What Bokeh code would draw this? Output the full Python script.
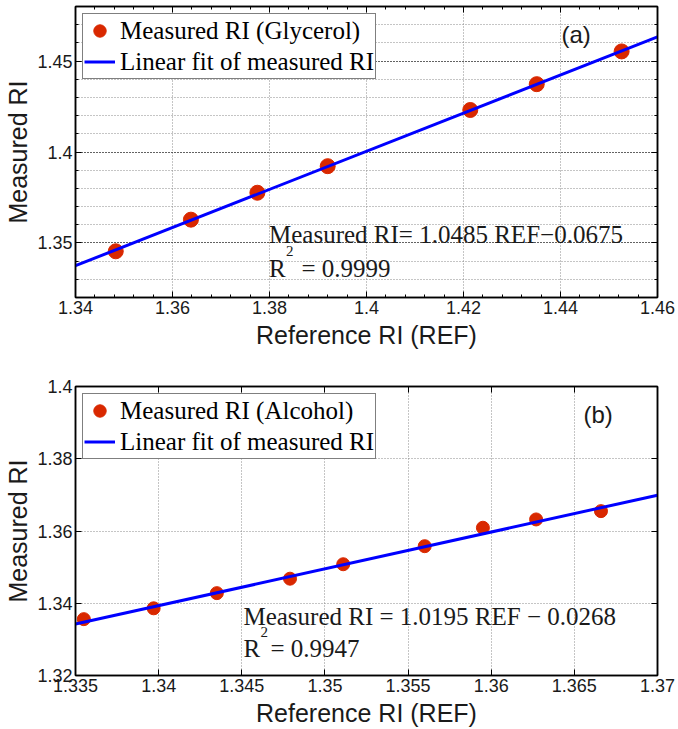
import numpy as np
from bokeh.plotting import figure
from bokeh.models import (Legend, LegendItem, Label, LinearAxis, FixedTicker, Range1d, Grid)
from bokeh.layouts import column
from bokeh.embed import file_html
from bokeh.resources import INLINE

# ---------------- data: panel (a) glycerol ----------------
ref_glycerol = [1.3483, 1.3638, 1.3775, 1.3920, 1.4214, 1.4351, 1.4526]
meas_glycerol = [1.3454, 1.3628, 1.3776, 1.3922, 1.4231, 1.4373, 1.4553]
fit_a_slope = 1.0485
fit_a_intercept = -0.0675
fit_a_x = [1.34, 1.46]

# ---------------- data: panel (b) alcohol ----------------
ref_alcohol = [1.3355, 1.3397, 1.3435, 1.3479, 1.3511, 1.3560, 1.3595, 1.3627, 1.3666]
meas_alcohol = [1.3356, 1.3386, 1.3428, 1.3468, 1.3508, 1.3558, 1.3609, 1.3632, 1.3655]
fit_b_slope = 1.0195
fit_b_intercept = -0.0268
fit_b_x = [1.335, 1.37]

# ---------------- tick labels ----------------
a_xticks = [1.34, 1.36, 1.38, 1.40, 1.42, 1.44, 1.46]
a_xlabels = ["1.34", "1.36", "1.38", "1.4", "1.42", "1.44", "1.46"]
a_yticks = [1.35, 1.40, 1.45]
a_ylabels = ["1.35", "1.4", "1.45"]
b_xticks = [1.335, 1.34, 1.345, 1.35, 1.355, 1.36, 1.365, 1.37]
b_xlabels = ["1.335", "1.34", "1.345", "1.35", "1.355", "1.36", "1.365", "1.37"]
b_yticks = [1.32, 1.34, 1.36, 1.38, 1.40]
b_ylabels = ["1.32", "1.34", "1.36", "1.38", "1.4"]

legend_a = ["Measured RI (Glycerol)", "Linear fit of measured RI"]
legend_b = ["Measured RI (Alcohol)", "Linear fit of measured RI"]
eq_a = ["Measured RI= 1.0485 REF\u22120.0675", "R", "2", "= 0.9999"]
eq_b = ["Measured RI = 1.0195 REF \u2212 0.0268", "R", "2", "= 0.9947"]

RED = "#d92800"
BLUE = "#0000ff"
SANS = "Liberation Sans"
SERIF = "Liberation Serif"
TXT = "#1a1a1a"
GRAY = "#8a8a8a"
LBL_DY = 6  # label vertical correction (px)


def style_axis(ax, ticker, labels, show_labels=True):
    ax.ticker = ticker
    ax.major_tick_in = 6
    ax.major_tick_out = 0
    ax.minor_tick_in = 3
    ax.minor_tick_out = 0
    ax.axis_line_width = 1.5
    ax.axis_line_color = "black"
    ax.major_tick_line_color = "black"
    ax.minor_tick_line_color = "black"
    ax.major_tick_line_width = 1
    ax.minor_tick_line_width = 1
    if show_labels:
        ax.major_label_overrides = {t: l for t, l in zip(ticker.ticks, labels)}
        ax.major_label_text_font = SANS
        ax.major_label_text_font_size = "18px"
        ax.major_label_text_color = TXT
        ax.major_label_standoff = 3
        ax.axis_label_text_font = SANS
        ax.axis_label_text_font_size = "25px"
        ax.axis_label_text_font_style = "normal"
        ax.axis_label_text_color = TXT
    else:
        ax.major_label_text_font_size = "1px"
        ax.major_label_text_color = None
        ax.major_label_standoff = 0


def make_panel(height, top, bottom, xr, yr, xticks, xlabels, xminor, yticks, ylabels, yminor,
               xs, ys, fit_x, slope, intercept, msize, leg, eq, eqpos, tag, tagpos,
               y_major_color):
    p = figure(width=678, height=height, x_range=Range1d(*xr), y_range=Range1d(*yr),
               output_backend="svg", toolbar_location=None,
               min_border_left=75, min_border_right=21, min_border_top=top,
               min_border_bottom=bottom, x_axis_type=None, y_axis_type=None)
    p.outline_line_color = "black"
    p.outline_line_width = 1.5
    p.background_fill_color = "white"
    p.border_fill_color = "white"

    xt = FixedTicker(ticks=xticks, minor_ticks=xminor)
    yt = FixedTicker(ticks=yticks, minor_ticks=yminor)

    xb = LinearAxis(axis_label="Reference RI (REF)")
    style_axis(xb, xt, xlabels)
    xb.axis_label_standoff = 4
    yl = LinearAxis(axis_label="Measured RI")
    style_axis(yl, yt, ylabels)
    yl.axis_label_standoff = 2
    xa = LinearAxis()
    style_axis(xa, xt, None, show_labels=False)
    yr_ax = LinearAxis()
    style_axis(yr_ax, yt, None, show_labels=False)
    p.add_layout(xb, "below")
    p.add_layout(yl, "left")
    p.add_layout(xa, "above")
    p.add_layout(yr_ax, "right")

    gx = Grid(dimension=0, ticker=xt, grid_line_color=GRAY, grid_line_dash="1 2",
              grid_line_width=1)
    gy = Grid(dimension=1, ticker=yt, grid_line_color=y_major_color, grid_line_dash="1 2",
              grid_line_width=1)
    if yminor:
        gy.minor_grid_line_color = GRAY
        gy.minor_grid_line_dash = "1 2"
        gy.minor_grid_line_width = 1
    p.add_layout(gx)
    p.add_layout(gy)

    sc = p.scatter(xs, ys, size=msize, color=RED, line_color=RED)
    fit_y = [slope * x + intercept for x in fit_x]
    ln = p.line(fit_x, fit_y, line_color=BLUE, line_width=3)

    legend = Legend(items=[LegendItem(label=leg[0], renderers=[sc]),
                           LegendItem(label=leg[1], renderers=[ln])],
                    location="top_left", margin=7, padding=1, spacing=-1,
                    glyph_width=31, glyph_height=31, label_standoff=5,
                    label_text_font=SERIF, label_text_font_size="25px",
                    label_text_color="black",
                    border_line_color="black", border_line_width=1.5,
                    background_fill_color="white", background_fill_alpha=1)
    p.add_layout(legend)

    (x0, y1, y2, off2, off3) = eqpos
    common = dict(text_font=SERIF, text_color=TXT, text_baseline="alphabetic")
    p.add_layout(Label(x=x0, y=y1, y_offset=LBL_DY, text=eq[0], text_font_size="25px", **common))
    p.add_layout(Label(x=x0, y=y2, y_offset=LBL_DY, text=eq[1], text_font_size="25px", **common))
    p.add_layout(Label(x=x0, y=y2, x_offset=off2, y_offset=17 + LBL_DY, text=eq[2],
                       text_font_size="15px", **common))
    p.add_layout(Label(x=x0, y=y2, x_offset=off3, y_offset=LBL_DY, text=eq[3],
                       text_font_size="25px", **common))
    p.add_layout(Label(x=tagpos[0], y=tagpos[1], y_offset=LBL_DY, text=tag, text_font=SANS,
                       text_font_size="24px", text_color=TXT, text_baseline="alphabetic"))
    return p


a_xminor = [round(1.34 + 0.004 * i, 4) for i in range(31)]
a_yminor = [round(1.32 + 0.01 * i, 4) for i in range(17)]

pa = make_panel(370, 6, 73, (1.34, 1.46), (1.32, 1.48), a_xticks, a_xlabels, a_xminor,
                a_yticks, a_ylabels, a_yminor,
                ref_glycerol, meas_glycerol, fit_a_x, fit_a_slope, fit_a_intercept, 15,
                legend_a, eq_a, (1.3799, 1.3514, 1.3329, 17, 32.5), "(a)", (1.4402, 1.4612),
                "black")

pb = make_panel(359, 16, 53, (1.335, 1.37), (1.32, 1.40), b_xticks, b_xlabels, [],
                b_yticks, b_ylabels, [],
                ref_alcohol, meas_alcohol, fit_b_x, fit_b_slope, fit_b_intercept, 13,
                legend_b, eq_b, (1.3451, 1.33465, 1.32574, 17, 27), "(b)", (1.36555, 1.39062),
                GRAY)

layout = column(pa, pb, spacing=0)
open("out.html", "w").write(file_html(layout, INLINE))
